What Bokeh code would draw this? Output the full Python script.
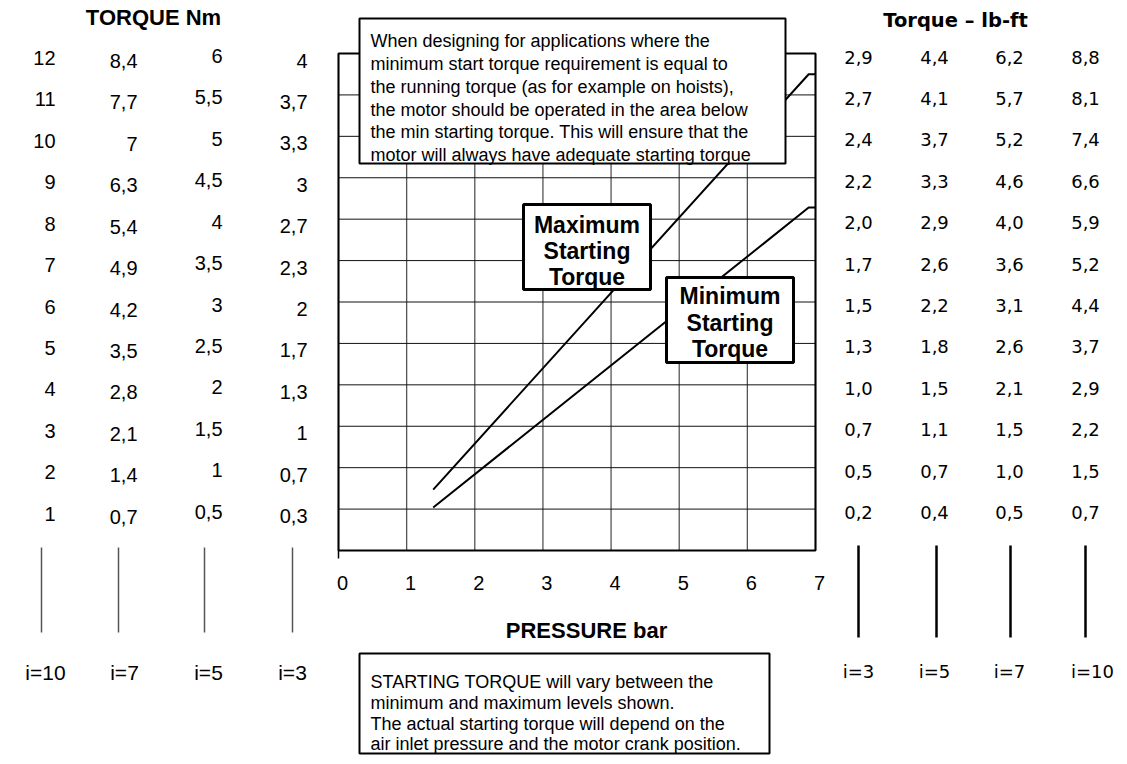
from bokeh.plotting import figure
from bokeh.models import Range1d
from bokeh.core.properties import value
from bokeh.embed import file_html
from bokeh.resources import INLINE

# ---------------- data ----------------
pressure_ticks = [0, 1, 2, 3, 4, 5, 6, 7]            # bar
torque_rows = [12, 11, 10, 9, 8, 7, 6, 5, 4, 3, 2, 1]  # chart grid rows

nm_i10 = [12, 11, 10, 9, 8, 7, 6, 5, 4, 3, 2, 1]
nm_i7 = [8.4, 7.7, 7, 6.3, 5.4, 4.9, 4.2, 3.5, 2.8, 2.1, 1.4, 0.7]
nm_i5 = [6, 5.5, 5, 4.5, 4, 3.5, 3, 2.5, 2, 1.5, 1, 0.5]
nm_i3 = [4, 3.7, 3.3, 3, 2.7, 2.3, 2, 1.7, 1.3, 1, 0.7, 0.3]

lbft_i3 = [2.9, 2.7, 2.4, 2.2, 2.0, 1.7, 1.5, 1.3, 1.0, 0.7, 0.5, 0.2]
lbft_i5 = [4.4, 4.1, 3.7, 3.3, 2.9, 2.6, 2.2, 1.8, 1.5, 1.1, 0.7, 0.4]
lbft_i7 = [6.2, 5.7, 5.2, 4.6, 4.0, 3.6, 3.1, 2.6, 2.1, 1.5, 1.0, 0.5]
lbft_i10 = [8.8, 8.1, 7.4, 6.6, 5.9, 5.2, 4.4, 3.7, 2.9, 2.2, 1.5, 0.7]

ratios_left = ["i=10", "i=7", "i=5", "i=3"]
ratios_right = ["i=3", "i=5", "i=7", "i=10"]

max_pressure = [1.39, 6.9, 7.0]
max_torque = [1.47, 11.5, 11.5]
min_pressure = [1.39, 6.9, 7.0]
min_torque = [1.04, 8.28, 8.28]

note_top = [
    "When designing for applications where the",
    "minimum start torque requirement is equal to",
    "the running torque (as for example on hoists),",
    "the motor should be operated in the area below",
    "the min starting torque. This will ensure that the",
    "motor will always have adequate starting torque",
]
note_bottom = [
    "STARTING TORQUE will vary between the",
    "minimum and maximum levels shown.",
    "The actual starting torque will depend on the",
    "air inlet pressure and the motor crank position.",
]
max_label = ["Maximum", "Starting", "Torque"]
min_label = ["Minimum", "Starting", "Torque"]

# ---------------- layout (picture pixels) ----------------
W, H = 1119, 756
FL, FR, FT, FB = 338, 815, 53, 550
XMAX, YMAX = pressure_ticks[-1], max(torque_rows)
sx = (FR - FL) / XMAX
sy = (FB - FT) / YMAX

p = figure(width=W, height=H,
           x_range=Range1d(-FL / sx, (W - FL) / sx),
           y_range=Range1d((FB - H) / sy, FB / sy),
           x_axis_type=None, y_axis_type=None,
           toolbar_location=None, output_backend="svg",
           min_border=0, outline_line_color=None,
           background_fill_color="white", border_fill_color="white")
p.grid.visible = False
p.extra_x_ranges = {"px": Range1d(0, W)}
p.extra_y_ranges = {"py": Range1d(H, 0)}

ARIAL = value("Liberation Sans")
DEJAVU = value("DejaVu Sans")

# grid
p.segment(x0=pressure_ticks, y0=[0] * len(pressure_ticks), x1=pressure_ticks,
          y1=[YMAX] * len(pressure_ticks), line_color="#555555", line_width=1.3)
p.segment(x0=[0] * len(torque_rows), y0=torque_rows, x1=[XMAX] * len(torque_rows),
          y1=torque_rows, line_color="#111111", line_width=1)
# frame
p.quad(left=[0], right=[XMAX], bottom=[0], top=[YMAX], fill_color=None,
       line_color="black", line_width=2)
p.segment(x0=[FL], y0=[FB], x1=[FL], y1=[FB + 8], x_range_name="px", y_range_name="py",
          line_color="black", line_width=1.5)

# data lines
p.line(max_pressure, max_torque, line_color="black", line_width=2)
p.line(min_pressure, min_torque, line_color="black", line_width=2)

# x tick labels
p.text(x=pressure_ticks, y=[582] * len(pressure_ticks), text=[str(v) for v in pressure_ticks],
       y_range_name="py", x_offset=4, text_align="center", text_baseline="middle",
       text_font=ARIAL, text_font_size="20px", text_color="black")
p.text(x=[586], y=[630], text=["PRESSURE bar"], x_range_name="px", y_range_name="py",
       text_align="center", text_baseline="middle", text_font=ARIAL,
       text_font_size="22px", text_font_style="bold", text_color="black")


def fmt_nm(v):
    return (str(int(v)) if float(v).is_integer() else f"{v}").replace(".", ",")


def fmt_lb(v):
    return f"{v:.1f}".replace(".", ",")


# left Nm columns (right aligned)
left_cols = [nm_i10, nm_i7, nm_i5, nm_i3]
left_right_edge = [55, 137, 222, 307]
left_shift = [4.5, 7.5, 2.5, 7]
for col, xr, yo in zip(left_cols, left_right_edge, left_shift):
    p.text(x=[xr] * len(col), y=torque_rows, text=[fmt_nm(v) for v in col],
           x_range_name="px", y_offset=yo, text_align="right", text_baseline="middle",
           text_font=ARIAL, text_font_size="20px", text_color="black")

p.text(x=[153], y=[17], text=["TORQUE Nm"], x_range_name="px", y_range_name="py",
       text_align="center", text_baseline="middle", text_font=ARIAL,
       text_font_size="22px", text_font_style="bold", text_color="black")

# right lb-ft columns
right_cols = [lbft_i3, lbft_i5, lbft_i7, lbft_i10]
right_center = [858, 934, 1009, 1085]
for col, xc in zip(right_cols, right_center):
    p.text(x=[xc] * len(col), y=torque_rows, text=[fmt_lb(v) for v in col],
           x_range_name="px", y_offset=3.5, text_align="center", text_baseline="middle",
           text_font=DEJAVU, text_font_size="18px", text_color="black")

p.text(x=[955], y=[20], text=["Torque \u2013 lb-ft"], x_range_name="px", y_range_name="py",
       text_align="center", text_baseline="middle", text_font=DEJAVU,
       text_font_size="19.5px", text_font_style="bold", text_color="black")

# ratio stubs and labels
p.segment(x0=[41, 118, 204, 292], y0=[547] * 4, x1=[41, 118, 204, 292], y1=[632] * 4,
          x_range_name="px", y_range_name="py", line_color="#555555", line_width=1.5)
p.segment(x0=[858, 936, 1010, 1085], y0=[545] * 4, x1=[858, 936, 1010, 1085], y1=[637] * 4,
          x_range_name="px", y_range_name="py", line_color="black", line_width=2.5)
p.text(x=[45, 124, 208, 292], y=[672] * 4, text=ratios_left, x_range_name="px",
       y_range_name="py", text_align="center", text_baseline="middle",
       text_font=ARIAL, text_font_size="21px", text_color="black")
p.text(x=[858, 934, 1009, 1092], y=[671] * 4, text=ratios_right, x_range_name="px",
       y_range_name="py", text_align="center", text_baseline="middle",
       text_font=DEJAVU, text_font_size="18px", text_color="black")

# top note box
p.quad(left=[359], right=[785], top=[18], bottom=[163], x_range_name="px", y_range_name="py",
       fill_color="white", line_color="black", line_width=2)
p.text(x=[370] * len(note_top), y=[40.5 + 22.86 * k for k in range(len(note_top))],
       text=note_top, x_range_name="px", y_range_name="py", text_align="left",
       text_baseline="middle", text_font=ARIAL, text_font_size="18px", text_color="black")

# bottom note box
p.quad(left=[359], right=[769], top=[653], bottom=[753], x_range_name="px", y_range_name="py",
       fill_color="white", line_color="black", line_width=2)
p.text(x=[370] * len(note_bottom), y=[681, 702, 723, 743], text=note_bottom,
       x_range_name="px", y_range_name="py", text_align="left", text_baseline="middle",
       text_font=ARIAL, text_font_size="18px", text_color="black")

# curve label boxes
p.quad(left=[523], right=[650], top=[204], bottom=[289], x_range_name="px", y_range_name="py",
       fill_color="white", line_color="black", line_width=3)
p.text(x=[586.5] * 3, y=[224, 250, 276], text=max_label, x_range_name="px",
       y_range_name="py", text_align="center", text_baseline="middle",
       text_font=ARIAL, text_font_size="23px", text_font_style="bold", text_color="black")
p.quad(left=[666], right=[793], top=[277], bottom=[362], x_range_name="px", y_range_name="py",
       fill_color="white", line_color="black", line_width=3)
p.text(x=[729.5] * 3, y=[295, 322, 348], text=min_label, x_range_name="px",
       y_range_name="py", text_align="center", text_baseline="middle",
       text_font=ARIAL, text_font_size="23px", text_font_style="bold", text_color="black")

open("out.html", "w").write(file_html(p, INLINE))
